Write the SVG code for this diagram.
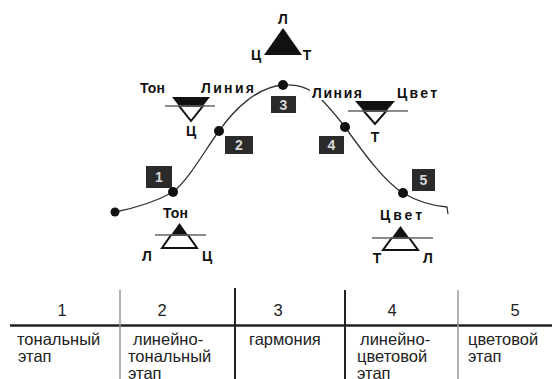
<svg xmlns="http://www.w3.org/2000/svg" width="552" height="379" viewBox="0 0 552 379">
<style>
.lb{font-family:"Liberation Sans",Arial,sans-serif;font-weight:bold;font-size:14px;fill:#111}
.tb{font-family:"Liberation Sans",Arial,sans-serif;font-size:16.5px;fill:#222}
.hd{font-family:"Liberation Sans",Arial,sans-serif;font-size:16.5px;fill:#222;text-anchor:middle}
.fill{fill:#111}
.out{fill:none;stroke:#111;stroke-width:2;stroke-linejoin:miter}
.bar{stroke:#666;stroke-width:1.5}
.box{fill:#2b2b2b}
.num{font-family:"Liberation Sans",Arial,sans-serif;font-weight:bold;font-size:14px;fill:#d8d8d8;text-anchor:middle}
.curve{fill:none;stroke:#333;stroke-width:1.3}
.dot{fill:#111}
</style>
<rect width="552" height="379" fill="#fff"/>

<g id="connectors">
<path class="curve" d="M115,212 Q150,205 173,192 C190,178 205,150 219,131 C235,108 258,87 283,85 C300,84 312,90 320,98 C330,108 338,118 345,127 C365,155 385,182 403,193 C420,203 435,206 447,207 L448,214"/>
<circle class="dot" cx="115" cy="212" r="4.5"/>
<circle class="dot" cx="173" cy="192" r="5"/>
<circle class="dot" cx="219" cy="131" r="5"/>
<circle class="dot" cx="283" cy="85" r="5"/>
<circle class="dot" cx="345" cy="127" r="5"/>
<circle class="dot" cx="403" cy="193" r="5"/>
</g>

<g id="top-triangle">
<polygon class="fill" points="283,28 302,55 264,55"/>
<text class="lb" x="283" y="24" text-anchor="middle">Л</text>
<text class="lb" x="256" y="60" text-anchor="middle">Ц</text>
<text class="lb" x="307" y="60" text-anchor="middle">Т</text>
</g>

<g id="left-inverted">
<polygon class="fill" points="172,97 210,97 202.9,106 179.1,106"/>
<polygon class="out" points="179.1,106 202.9,106 191,121"/>
<line class="bar" x1="165" y1="106" x2="215" y2="106"/>
<text class="lb" x="140" y="93" textLength="25">Тон</text>
<text class="lb" x="201" y="93" textLength="53">Линия</text>
<text class="lb" x="191" y="136" text-anchor="middle">Ц</text>
</g>

<g id="right-inverted">
<polygon class="fill" points="355,101 395,101 386.3,111 363.7,111"/>
<polygon class="out" points="363.7,111 386.3,111 375,124"/>
<line class="bar" x1="348" y1="111" x2="408" y2="111"/>
<rect x="310" y="86" width="53" height="14" fill="#fff"/>
<text class="lb" x="312" y="98" textLength="50">Линия</text>
<text class="lb" x="397" y="98" textLength="40">Цвет</text>
<text class="lb" x="375" y="142" text-anchor="middle">Т</text>
</g>

<g id="bottom-left">
<polygon class="fill" points="179.5,223 187.9,235 171.1,235"/>
<polygon class="out" points="171.1,235 187.9,235 197,248 162,248"/>
<line class="bar" x1="155" y1="235" x2="206" y2="235"/>
<text class="lb" x="163" y="218" textLength="25">Тон</text>
<text class="lb" x="147" y="261" text-anchor="middle">Л</text>
<text class="lb" x="207" y="261" text-anchor="middle">Ц</text>
</g>

<g id="bottom-right">
<polygon class="fill" points="400.5,226 409.25,238 391.75,238"/>
<polygon class="out" points="391.75,238 409.25,238 418,250 383,250"/>
<line class="bar" x1="372" y1="238" x2="433" y2="238"/>
<text class="lb" x="380" y="220" textLength="42">Цвет</text>
<text class="lb" x="377" y="263" text-anchor="middle">Т</text>
<text class="lb" x="428" y="263" text-anchor="middle">Л</text>
</g>

<g id="stage-1"><rect class="box" x="146" y="166" width="26" height="22"/><text class="num" x="159" y="182">1</text></g>
<g id="stage-2"><rect class="box" x="225" y="136" width="28" height="18"/><text class="num" x="239" y="150">2</text></g>
<g id="stage-3"><rect class="box" x="271" y="96" width="25" height="17"/><text class="num" x="283.5" y="110">3</text></g>
<g id="stage-4"><rect class="box" x="319" y="136" width="25" height="18"/><text class="num" x="331.5" y="150">4</text></g>
<g id="stage-5"><rect class="box" x="412" y="169" width="23" height="22"/><text class="num" x="423.5" y="185">5</text></g>

<g id="table">
<line x1="10" y1="325.5" x2="552" y2="325.5" stroke="#222" stroke-width="2.5"/>
<line x1="120" y1="290" x2="120" y2="379" stroke="#999" stroke-width="1.5"/>
<line x1="235" y1="288" x2="235" y2="379" stroke="#222" stroke-width="2"/>
<line x1="345" y1="290" x2="345" y2="379" stroke="#222" stroke-width="2"/>
<line x1="458" y1="290" x2="458" y2="379" stroke="#999" stroke-width="1.5"/>
<text class="hd" x="62" y="316">1</text>
<text class="hd" x="162" y="316">2</text>
<text class="hd" x="278" y="316">3</text>
<text class="hd" x="392" y="316">4</text>
<text class="hd" x="515" y="316">5</text>
<text class="tb" x="17" y="344.5">тональный</text>
<text class="tb" x="18" y="361.5">этап</text>
<text class="tb" x="133" y="344.5">линейно-</text>
<text class="tb" x="128" y="361.5">тональный</text>
<text class="tb" x="128" y="378.5">этап</text>
<text class="tb" x="249" y="344.5">гармония</text>
<text class="tb" x="360" y="344.5">линейно-</text>
<text class="tb" x="357" y="361.5">цветовой</text>
<text class="tb" x="357" y="378.5">этап</text>
<text class="tb" x="468" y="344.5">цветовой</text>
<text class="tb" x="468" y="361.5">этап</text>
</g>
</svg>
